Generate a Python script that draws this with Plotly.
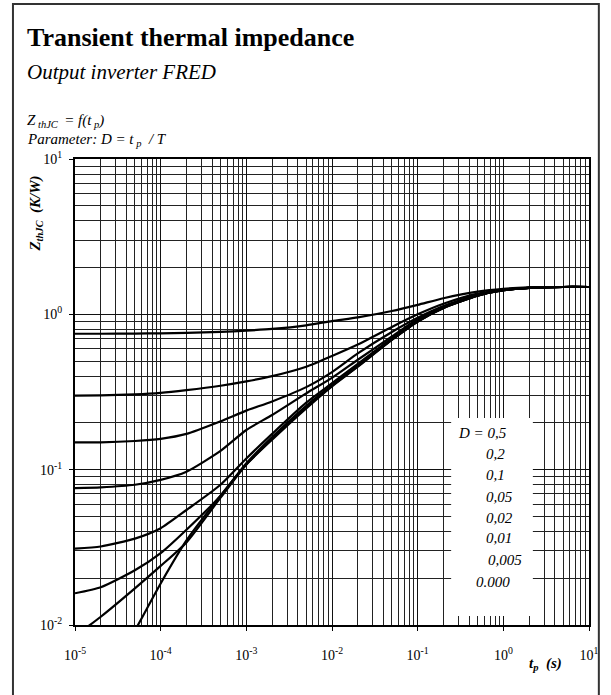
import plotly.graph_objects as go

# Pulse duration grid (s)
t_p = [1e-5, 2e-5, 5e-5, 1e-4, 2e-4, 5e-4, 1e-3, 2e-3, 5e-3, 1e-2, 2e-2,
       5e-2, 1e-1, 2e-1, 5e-1, 1, 2, 5, 10]

# Transient thermal impedance Z_thJC (K/W) for each duty cycle D
z_d050 = [0.750, 0.750, 0.752, 0.755, 0.760, 0.770, 0.785, 0.805, 0.850, 0.905,
          0.955, 1.05, 1.15, 1.27, 1.40, 1.46, 1.49, 1.50, 1.50]
z_d020 = [0.300, 0.301, 0.305, 0.312, 0.325, 0.347, 0.370, 0.400, 0.460, 0.540,
          0.640, 0.830, 1.00, 1.17, 1.36, 1.44, 1.48, 1.50, 1.50]
z_d010 = [0.150, 0.150, 0.153, 0.158, 0.170, 0.205, 0.240, 0.275, 0.340, 0.425,
          0.560, 0.770, 0.95, 1.13, 1.34, 1.43, 1.48, 1.50, 1.50]
z_d005 = [0.076, 0.077, 0.080, 0.086, 0.097, 0.132, 0.180, 0.225, 0.310, 0.390,
          0.510, 0.720, 0.93, 1.12, 1.33, 1.43, 1.48, 1.50, 1.50]
z_d002 = [0.031, 0.032, 0.036, 0.042, 0.055, 0.080, 0.118, 0.170, 0.270, 0.360,
          0.480, 0.700, 0.91, 1.11, 1.32, 1.43, 1.48, 1.50, 1.50]
z_d001 = [0.016, 0.0175, 0.0225, 0.029, 0.041, 0.068, 0.110, 0.162, 0.258, 0.350,
          0.470, 0.690, 0.90, 1.10, 1.32, 1.43, 1.48, 1.50, 1.50]
z_d0005 = [0.0085, 0.0113, 0.0172, 0.024, 0.034, 0.066, 0.108, 0.158, 0.252, 0.346,
           0.463, 0.687, 0.90, 1.10, 1.32, 1.43, 1.48, 1.50, 1.50]
z_d000 = [0.0020, 0.0038, 0.0092, 0.0185, 0.035, 0.068, 0.108, 0.156, 0.248, 0.344,
          0.460, 0.685, 0.90, 1.10, 1.32, 1.43, 1.48, 1.50, 1.50]

series = [z_d050, z_d020, z_d010, z_d005, z_d002, z_d001, z_d0005, z_d000]
d_labels = ["D = 0,5", "0,2", "0,1", "0,05", "0,02", "0,01", "0,005", "0.000"]

x_decades = [1e-5, 1e-4, 1e-3, 1e-2, 1e-1, 1e0, 1e1]
x_ticktext = ["10<sup>-5</sup>", "10<sup>-4</sup>", "10<sup>-3</sup>", "10<sup>-2</sup>",
              "10<sup>-1</sup>", "10<sup>0</sup>", "10<sup>1</sup>"]
y_decades = [1e-2, 1e-1, 1e0, 1e1]
y_ticktext = ["10<sup>-2</sup>", "10<sup>-1</sup>", "10<sup>0</sup>", "10<sup>1</sup>"]

SERIF = "Liberation Serif, Times New Roman, serif"

def minor_vals(decades):
    vals = []
    for d in decades[:-1]:
        for k in range(2, 10):
            vals.append(d * k)
    return vals

fig = go.Figure()
for z in series:
    fig.add_trace(go.Scatter(
        x=t_p, y=z, mode="lines",
        line=dict(color="black", width=2.2, shape="spline", smoothing=0.6),
        showlegend=False, hoverinfo="skip", cliponaxis=True,
    ))

axis_common = dict(
    type="log",
    showgrid=True, gridcolor="#111", gridwidth=1,
    showline=True, linecolor="black", linewidth=2, mirror=True,
    ticks="outside", ticklen=4, tickcolor="black", tickwidth=1,
    tickfont=dict(family=SERIF, size=14, color="black"),
    zeroline=False,
)

fig.update_xaxes(
    range=[-5, 1], tickmode="array", tickvals=x_decades, ticktext=x_ticktext,
    minor=dict(tickmode="array", tickvals=minor_vals(x_decades), showgrid=True,
               gridcolor="#222", gridwidth=1, ticks=""),
    ticklabelstandoff=12,
    **axis_common,
)
fig.update_yaxes(
    range=[-2, 1], tickmode="array", tickvals=y_decades, ticktext=y_ticktext,
    minor=dict(tickmode="array", tickvals=minor_vals(y_decades), showgrid=True,
               gridcolor="#222", gridwidth=1, ticks=""),
    ticklabelstandoff=4,
    **axis_common,
)

# Plot area geometry in pixels (used for placing paper-referenced items)
L, R, T, B = 75, 14, 159, 70
W, H = 611, 695
PW, PH = W - L - R, H - T - B

def px(x):
    return (x - L) / PW

def py(y):
    return (H - B - y) / PH

# Outer frame of the sheet
fig.add_shape(type="rect", xref="paper", yref="paper",
              x0=px(12), x1=px(607), y0=py(4), y1=py(720),
              line=dict(color="#333", width=2), fillcolor="rgba(0,0,0,0)", layer="above")

# White panel behind the duty-cycle labels
fig.add_shape(type="rect", xref="paper", yref="paper",
              x0=px(457), x1=px(540), y0=py(418), y1=py(616),
              line=dict(width=0), fillcolor="white", layer="above")

label_pos = [(462, 433), (490, 454), (490, 475), (490, 497),
             (490, 518), (490, 538), (492, 560), (480, 582)]
for text, (lx, ly) in zip(d_labels, label_pos):
    fig.add_annotation(x=px(lx), y=py(ly), xref="paper", yref="paper",
                       text=f"<i>{text}</i>", showarrow=False,
                       xanchor="left", yanchor="middle",
                       font=dict(family=SERIF, size=15, color="black"))

# Titles and notes
fig.add_annotation(x=px(24), y=py(38), xref="paper", yref="paper",
                   text="<b>Transient thermal impedance</b>", showarrow=False,
                   xanchor="left", yanchor="middle",
                   font=dict(family=SERIF, size=26, color="black"))
fig.add_annotation(x=px(24), y=py(72), xref="paper", yref="paper",
                   text="<i>Output inverter FRED</i>", showarrow=False,
                   xanchor="left", yanchor="middle",
                   font=dict(family=SERIF, size=21, color="black"))
fig.add_annotation(x=px(24), y=py(121), xref="paper", yref="paper",
                   text="<i>Z<sub> thJC </sub> = f(t<sub> p</sub>)</i>", showarrow=False,
                   xanchor="left", yanchor="middle",
                   font=dict(family=SERIF, size=15, color="black"))
fig.add_annotation(x=px(24), y=py(140), xref="paper", yref="paper",
                   text="<i>Parameter: D = t<sub> p</sub>  / T</i>", showarrow=False,
                   xanchor="left", yanchor="middle",
                   font=dict(family=SERIF, size=15, color="black"))

# Axis titles
fig.add_annotation(x=px(35), y=py(214), xref="paper", yref="paper",
                   text="<b><i>Z<sub>thJC</sub>  (K/W)</i></b>", showarrow=False,
                   textangle=-90, xanchor="center", yanchor="middle",
                   font=dict(family=SERIF, size=15, color="black"))
fig.add_annotation(x=px(553), y=py(664), xref="paper", yref="paper",
                   text="<b><i>t<sub>p</sub>  (s)</i></b>", showarrow=False,
                   xanchor="center", yanchor="middle",
                   font=dict(family=SERIF, size=15, color="black"))

fig.update_layout(
    width=W, height=H,
    margin=dict(l=L, r=R, t=T, b=B),
    paper_bgcolor="white", plot_bgcolor="white",
    showlegend=False,
)

fig.write_html("out.html")
